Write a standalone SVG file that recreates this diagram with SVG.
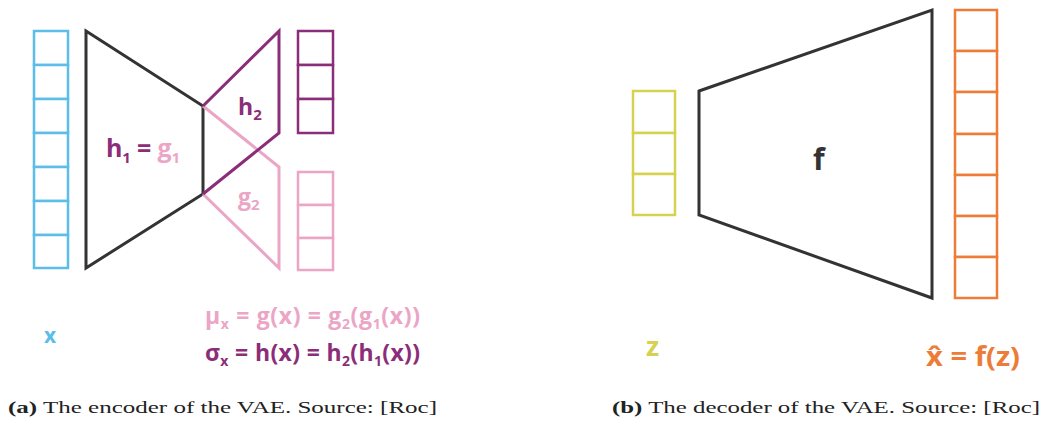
<svg xmlns="http://www.w3.org/2000/svg" width="1042" height="430" viewBox="0 0 1042 430">
<style>
.cell{fill:#fff;stroke-width:2.5}
.blue{stroke:#5cbde9}
.purple{stroke:#8b2d78}
.pink{stroke:#eba5c5}
.yellow{stroke:#d6d150}
.orange{stroke:#ec7c37}
.shape{fill:none;stroke-width:3;stroke-linejoin:miter}
.lbl{font-family:"Open Sans","Liberation Sans",sans-serif;font-weight:bold}
.cap{font-family:"Liberation Serif","DejaVu Serif",serif;font-size:17.5px;fill:#222}
</style>
<rect width="1042" height="430" fill="#fff"/>
<g id="x-vector">
<rect class="cell blue" x="34" y="31" width="34" height="34"/>
<rect class="cell blue" x="34" y="65" width="34" height="34"/>
<rect class="cell blue" x="34" y="99" width="34" height="34"/>
<rect class="cell blue" x="34" y="133" width="34" height="34"/>
<rect class="cell blue" x="34" y="167" width="34" height="34"/>
<rect class="cell blue" x="34" y="201" width="34" height="34"/>
<rect class="cell blue" x="34" y="235" width="34" height="33"/>
</g>
<g id="encoder-g1">
<polygon class="shape" stroke="#333" points="86,31 203,106 203,194 86,268"/>
</g>
<g id="encoder-g2">
<polyline class="shape" stroke="#eba5c5" points="203,106 279,167 279,268 203,194"/>
</g>
<g id="encoder-h2">
<polyline class="shape" stroke="#8b2d78" points="203,194 279,133 279,31 203,106"/>
</g>
<g id="sigma-vector">
<rect class="cell purple" x="298" y="31" width="35" height="34"/>
<rect class="cell purple" x="298" y="65" width="35" height="34"/>
<rect class="cell purple" x="298" y="99" width="35" height="34"/>
</g>
<g id="mu-vector">
<rect class="cell pink" x="298" y="172" width="35" height="33"/>
<rect class="cell pink" x="298" y="205" width="35" height="33"/>
<rect class="cell pink" x="298" y="238" width="35" height="32"/>
</g>
<g id="encoder-labels" class="lbl">
<text x="106" y="157" font-size="25" textLength="74"><tspan fill="#8b2d78">h</tspan><tspan fill="#8b2d78" font-size="15" dy="6">1</tspan><tspan fill="#8b2d78" dy="-6"> = </tspan><tspan fill="#eba5c5">g</tspan><tspan fill="#eba5c5" font-size="15" dy="6">1</tspan></text>
<text x="238" y="115" font-size="23" fill="#8b2d78">h<tspan font-size="15" dy="5">2</tspan></text>
<text x="238" y="205" font-size="23" fill="#eba5c5">g<tspan font-size="15" dy="5">2</tspan></text>
<text x="44" y="343" font-size="21" fill="#5cbde9">x</text>
<text x="205" y="324" font-size="23" fill="#eba5c5" textLength="215">μ<tspan font-size="14" dy="5">x</tspan><tspan dy="-5"> = g(x) = g</tspan><tspan font-size="14" dy="5">2</tspan><tspan dy="-5">(g</tspan><tspan font-size="14" dy="5">1</tspan><tspan dy="-5">(x))</tspan></text>
<text x="205" y="361" font-size="23" fill="#8b2d78" textLength="215">σ<tspan font-size="14" dy="5">x</tspan><tspan dy="-5"> = h(x) = h</tspan><tspan font-size="14" dy="5">2</tspan><tspan dy="-5">(h</tspan><tspan font-size="14" dy="5">1</tspan><tspan dy="-5">(x))</tspan></text>
</g>
<g id="z-vector">
<rect class="cell yellow" x="633" y="91" width="42" height="42"/>
<rect class="cell yellow" x="633" y="133" width="42" height="41"/>
<rect class="cell yellow" x="633" y="174" width="42" height="41"/>
</g>
<g id="decoder-f">
<polygon class="shape" stroke="#333" points="699,91 932,10 932,298 699,215"/>
</g>
<g id="xhat-vector">
<rect class="cell orange" x="955" y="10" width="42" height="41"/>
<rect class="cell orange" x="955" y="51" width="42" height="41"/>
<rect class="cell orange" x="955" y="92" width="42" height="42"/>
<rect class="cell orange" x="955" y="134" width="42" height="41"/>
<rect class="cell orange" x="955" y="175" width="42" height="41"/>
<rect class="cell orange" x="955" y="216" width="42" height="41"/>
<rect class="cell orange" x="955" y="257" width="42" height="41"/>
</g>
<g id="decoder-labels" class="lbl">
<text x="813" y="170" font-size="30" fill="#333">f</text>
<text x="646" y="356" font-size="27" fill="#d6d150">z</text>
<text x="926" y="366" font-size="26" fill="#ec7c37" textLength="94" lengthAdjust="spacingAndGlyphs">x̂ = f(z)</text>
</g>
<g id="captions">
<text class="cap" x="8" y="413" textLength="429" lengthAdjust="spacingAndGlyphs"><tspan font-weight="bold">(a)</tspan> The encoder of the VAE. Source: [Roc]</text>
<text class="cap" x="612" y="413" textLength="428" lengthAdjust="spacingAndGlyphs"><tspan font-weight="bold">(b)</tspan> The decoder of the VAE. Source: [Roc]</text>
</g>
</svg>
